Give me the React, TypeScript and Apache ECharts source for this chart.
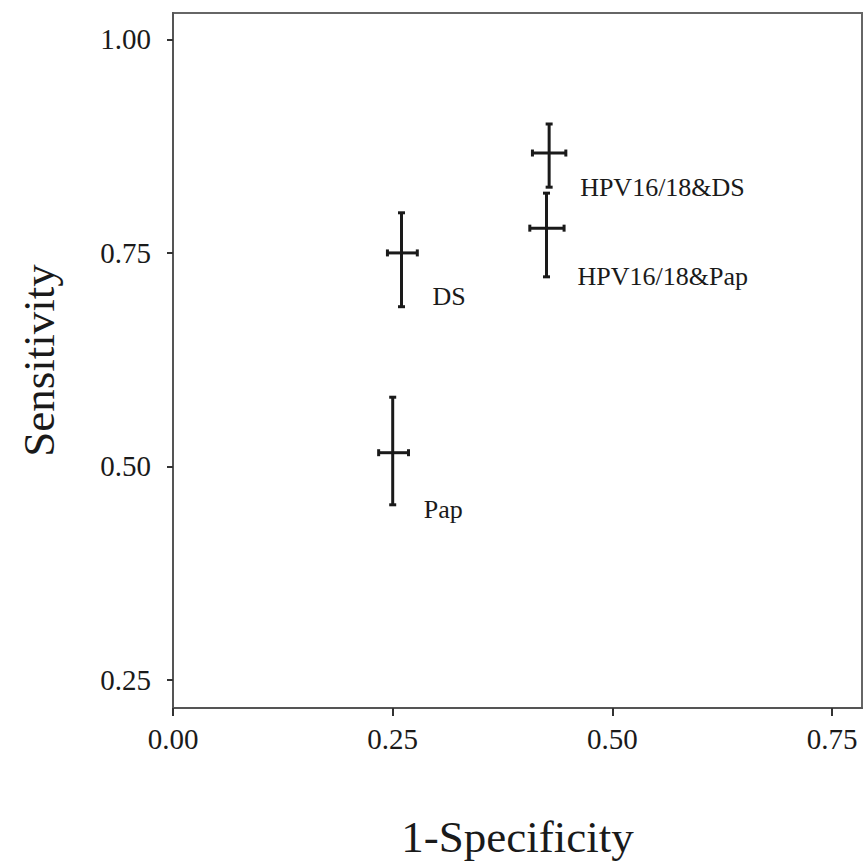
import React, { useEffect, useRef } from "react";
import * as echarts from "echarts";

const names = ["DS", "Pap", "HPV16/18&DS", "HPV16/18&Pap"];
const fpr = [0.26, 0.25, 0.428, 0.425];
const fprLow = [0.244, 0.234, 0.409, 0.406];
const fprHigh = [0.278, 0.268, 0.447, 0.445];
const sens = [0.75, 0.516, 0.867, 0.779];
const sensLow = [0.687, 0.455, 0.827, 0.722];
const sensHigh = [0.797, 0.581, 0.901, 0.82];
const xTicks = [0, 0.25, 0.5, 0.75];
const yTicks = [0.25, 0.5, 0.75, 1.0];

const FONT = "'Liberation Serif', 'DejaVu Serif', serif";
const INK = "#1a1a1a";
// label vertical nudge (px) relative to the lower end of each vertical bar
const labelDy = [-10, 5, 0, 0];

export default function App() {
  const ref = useRef<HTMLDivElement>(null);
  useEffect(() => {
    if (!ref.current) return;
    const chart = echarts.init(ref.current, undefined, { renderer: "svg" });
    const data = names.map((n, i) => [fpr[i], sens[i], fprLow[i], fprHigh[i], sensLow[i], sensHigh[i], i]);
    chart.setOption({
      animation: false,
      backgroundColor: "#ffffff",
      grid: {
        left: 173,
        top: 13,
        right: 1,
        bottom: 153,
        show: true,
        borderColor: "#666",
        borderWidth: 2,
        backgroundColor: "transparent",
        outerBoundsMode: "none",
        containLabel: false,
      },
      xAxis: {
        type: "value",
        min: 0,
        max: 0.784,
        name: "1-Specificity",
        nameLocation: "middle",
        nameGap: 106,
        nameTextStyle: { fontFamily: FONT, fontSize: 45, color: INK },
        axisLine: { show: true, lineStyle: { color: "#555", width: 2 } },
        axisTick: { show: true, customValues: xTicks, length: 8, inside: false, lineStyle: { color: "#333", width: 2 } },
        axisLabel: {
          customValues: xTicks,
          formatter: (v: number) => v.toFixed(2),
          fontFamily: FONT,
          fontSize: 29,
          color: INK,
          margin: 16,
        },
        splitLine: { show: false },
      },
      yAxis: {
        type: "value",
        min: 0.217,
        max: 1.031,
        name: "Sensitivity",
        nameLocation: "middle",
        nameGap: 112,
        nameRotate: 90,
        nameTextStyle: { fontFamily: FONT, fontSize: 45, color: INK },
        axisLine: { show: true, lineStyle: { color: "#555", width: 2 } },
        axisTick: { show: true, customValues: yTicks, length: 6, inside: false, lineStyle: { color: "#333", width: 2 } },
        axisLabel: {
          customValues: yTicks,
          formatter: (v: number) => v.toFixed(2),
          fontFamily: FONT,
          fontSize: 29,
          color: INK,
          margin: 22,
        },
        splitLine: { show: false },
      },
      series: [
        {
          type: "custom",
          clip: false,
          data,
          renderItem: (params: any, api: any) => {
            const x = api.value(0), y = api.value(1);
            const xl = api.value(2), xh = api.value(3);
            const yl = api.value(4), yh = api.value(5);
            const idx = api.value(6);
            const c = api.coord([x, y]);
            const l = api.coord([xl, y]);
            const h = api.coord([xh, y]);
            const t = api.coord([x, yh]);
            const b = api.coord([x, yl]);
            const ls = { stroke: INK, lineWidth: 3 };
            const cap = 3.5;
            return {
              type: "group",
              children: [
                { type: "line", shape: { x1: t[0], y1: t[1], x2: b[0], y2: b[1] }, style: ls },
                { type: "line", shape: { x1: l[0], y1: l[1], x2: h[0], y2: h[1] }, style: ls },
                { type: "line", shape: { x1: t[0] - cap, y1: t[1], x2: t[0] + cap, y2: t[1] }, style: ls },
                { type: "line", shape: { x1: b[0] - cap, y1: b[1], x2: b[0] + cap, y2: b[1] }, style: ls },
                { type: "line", shape: { x1: l[0], y1: l[1] - cap, x2: l[0], y2: l[1] + cap }, style: ls },
                { type: "line", shape: { x1: h[0], y1: h[1] - cap, x2: h[0], y2: h[1] + cap }, style: ls },
                {
                  type: "text",
                  x: c[0] + 31,
                  y: b[1] + labelDy[idx],
                  style: {
                    text: names[idx],
                    fontFamily: FONT,
                    fontSize: 26,
                    fill: INK,
                    align: "left",
                    verticalAlign: "middle",
                  },
                },
              ],
            };
          },
        },
      ],
    });
    return () => chart.dispose();
  }, []);
  return <div ref={ref} style={{ position: "absolute", left: 0, top: 0, width: 863, height: 861 }} />;
}
